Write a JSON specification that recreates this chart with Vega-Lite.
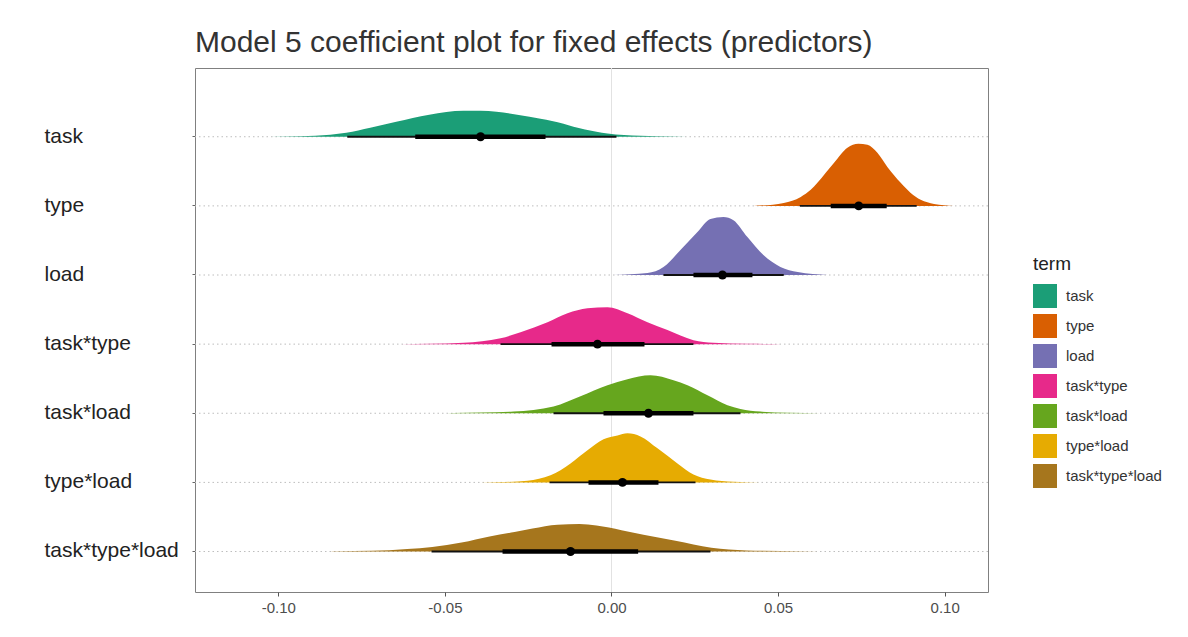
{
  "$schema": "https://vega.github.io/schema/vega-lite/v6.json",
  "autosize": {"type": "none"},
  "width": 793,
  "height": 524,
  "padding": {"left": 195, "top": 68, "right": 200, "bottom": 45},
  "background": "white",
  "title": {"text": "Model 5 coefficient plot for fixed effects (predictors)", "anchor": "start", "frame": "group", "fontSize": 30, "font": "Liberation Sans", "fontWeight": "normal", "color": "#333333", "offset": 10},
  "config": {
    "font": "Liberation Sans",
    "view": {"stroke": "#808080", "strokeWidth": 1}
  },
  "datasets": {
    "density": [
      {"term": "task", "x": -0.1024, "d": 0},
      {"term": "task", "x": -0.0934, "d": 0.36},
      {"term": "task", "x": -0.0844, "d": 1.42},
      {"term": "task", "x": -0.0796, "d": 2.84},
      {"term": "task", "x": -0.0724, "d": 6.4},
      {"term": "task", "x": -0.0646, "d": 10.67},
      {"term": "task", "x": -0.0547, "d": 15.65},
      {"term": "task", "x": -0.0444, "d": 18.49},
      {"term": "task", "x": -0.0393, "d": 18.49},
      {"term": "task", "x": -0.0345, "d": 17.78},
      {"term": "task", "x": -0.0246, "d": 14.22},
      {"term": "task", "x": -0.0213, "d": 12.8},
      {"term": "task", "x": -0.0144, "d": 9.25},
      {"term": "task", "x": -0.0114, "d": 7.11},
      {"term": "task", "x": -0.0045, "d": 3.56},
      {"term": "task", "x": -0.0012, "d": 2.35},
      {"term": "task", "x": 0.0087, "d": 0.71},
      {"term": "task", "x": 0.0186, "d": 0.21},
      {"term": "task", "x": 0.0267, "d": 0},
      {"term": "type", "x": 0.0427, "d": 0},
      {"term": "type", "x": 0.0517, "d": 2.1},
      {"term": "type", "x": 0.0568, "d": 6.4},
      {"term": "type", "x": 0.0598, "d": 11.4},
      {"term": "type", "x": 0.0618, "d": 16.4},
      {"term": "type", "x": 0.0668, "d": 30.6},
      {"term": "type", "x": 0.0708, "d": 41.3},
      {"term": "type", "x": 0.0741, "d": 44.1},
      {"term": "type", "x": 0.0768, "d": 43.4},
      {"term": "type", "x": 0.0798, "d": 37.7},
      {"term": "type", "x": 0.0828, "d": 27.7},
      {"term": "type", "x": 0.0868, "d": 16.4},
      {"term": "type", "x": 0.0898, "d": 9.2},
      {"term": "type", "x": 0.0928, "d": 4.3},
      {"term": "type", "x": 0.0968, "d": 1.4},
      {"term": "type", "x": 0.1028, "d": 0},
      {"term": "load", "x": 0.0006, "d": 0},
      {"term": "load", "x": 0.0108, "d": 1.4},
      {"term": "load", "x": 0.0156, "d": 5.7},
      {"term": "load", "x": 0.0207, "d": 17.8},
      {"term": "load", "x": 0.0258, "d": 30.6},
      {"term": "load", "x": 0.0297, "d": 39.8},
      {"term": "load", "x": 0.0336, "d": 41.3},
      {"term": "load", "x": 0.0366, "d": 39.0},
      {"term": "load", "x": 0.0408, "d": 27.0},
      {"term": "load", "x": 0.0456, "d": 14.2},
      {"term": "load", "x": 0.0507, "d": 5.7},
      {"term": "load", "x": 0.0559, "d": 2.1},
      {"term": "load", "x": 0.0649, "d": 0},
      {"term": "task*type", "x": -0.0634, "d": 0},
      {"term": "task*type", "x": -0.0544, "d": 0.2},
      {"term": "task*type", "x": -0.0444, "d": 0.9},
      {"term": "task*type", "x": -0.0333, "d": 4.1},
      {"term": "task*type", "x": -0.0273, "d": 8.5},
      {"term": "task*type", "x": -0.0192, "d": 15.6},
      {"term": "task*type", "x": -0.0132, "d": 22.0},
      {"term": "task*type", "x": -0.0072, "d": 25.6},
      {"term": "task*type", "x": -0.0012, "d": 26.3},
      {"term": "task*type", "x": 0.0048, "d": 22.0},
      {"term": "task*type", "x": 0.0108, "d": 15.6},
      {"term": "task*type", "x": 0.0168, "d": 10.0},
      {"term": "task*type", "x": 0.0246, "d": 2.8},
      {"term": "task*type", "x": 0.0306, "d": 0.9},
      {"term": "task*type", "x": 0.0408, "d": 0.2},
      {"term": "task*type", "x": 0.0508, "d": 0},
      {"term": "task*load", "x": -0.0514, "d": 0},
      {"term": "task*load", "x": -0.0474, "d": 0.2},
      {"term": "task*load", "x": -0.0294, "d": 1.2},
      {"term": "task*load", "x": -0.0174, "d": 4.8},
      {"term": "task*load", "x": -0.0093, "d": 12.1},
      {"term": "task*load", "x": -0.0012, "d": 19.9},
      {"term": "task*load", "x": 0.0048, "d": 24.2},
      {"term": "task*load", "x": 0.0117, "d": 27.0},
      {"term": "task*load", "x": 0.0186, "d": 23.5},
      {"term": "task*load", "x": 0.0228, "d": 19.9},
      {"term": "task*load", "x": 0.0288, "d": 12.8},
      {"term": "task*load", "x": 0.0348, "d": 5.7},
      {"term": "task*load", "x": 0.0387, "d": 3.1},
      {"term": "task*load", "x": 0.0447, "d": 1.2},
      {"term": "task*load", "x": 0.0529, "d": 0.4},
      {"term": "task*load", "x": 0.0628, "d": 0},
      {"term": "type*load", "x": -0.0393, "d": 0},
      {"term": "type*load", "x": -0.0333, "d": 0.2},
      {"term": "type*load", "x": -0.0252, "d": 1.2},
      {"term": "type*load", "x": -0.0183, "d": 5.0},
      {"term": "type*load", "x": -0.0123, "d": 13.5},
      {"term": "type*load", "x": -0.0072, "d": 22.8},
      {"term": "type*load", "x": -0.0024, "d": 30.6},
      {"term": "type*load", "x": 0.0018, "d": 33.4},
      {"term": "type*load", "x": 0.0048, "d": 34.9},
      {"term": "type*load", "x": 0.0087, "d": 32.7},
      {"term": "type*load", "x": 0.0138, "d": 24.2},
      {"term": "type*load", "x": 0.0198, "d": 13.5},
      {"term": "type*load", "x": 0.0246, "d": 5.7},
      {"term": "type*load", "x": 0.0297, "d": 2.1},
      {"term": "type*load", "x": 0.0366, "d": 0.5},
      {"term": "type*load", "x": 0.0447, "d": 0},
      {"term": "task*type*load", "x": -0.0844, "d": 0},
      {"term": "task*type*load", "x": -0.0826, "d": 0.2},
      {"term": "task*type*load", "x": -0.0721, "d": 0.5},
      {"term": "task*type*load", "x": -0.0613, "d": 1.8},
      {"term": "task*type*load", "x": -0.0538, "d": 3.3},
      {"term": "task*type*load", "x": -0.045, "d": 6.4},
      {"term": "task*type*load", "x": -0.0366, "d": 10.7},
      {"term": "task*type*load", "x": -0.0291, "d": 13.9},
      {"term": "task*type*load", "x": -0.0237, "d": 16.4},
      {"term": "task*type*load", "x": -0.0162, "d": 19.1},
      {"term": "task*type*load", "x": -0.0096, "d": 19.6},
      {"term": "task*type*load", "x": -0.0045, "d": 18.5},
      {"term": "task*type*load", "x": 0.003, "d": 15.2},
      {"term": "task*type*load", "x": 0.0096, "d": 11.9},
      {"term": "task*type*load", "x": 0.0192, "d": 7.6},
      {"term": "task*type*load", "x": 0.03, "d": 2.6},
      {"term": "task*type*load", "x": 0.0405, "d": 0.8},
      {"term": "task*type*load", "x": 0.0568, "d": 0.2},
      {"term": "task*type*load", "x": 0.0676, "d": 0}
    ],
    "intervals": [
      {"term": "task", "median": -0.0393, "lo66": -0.0589, "hi66": -0.0198, "lo95": -0.0793, "hi95": 0.0015},
      {"term": "type", "median": 0.0742, "lo66": 0.0658, "hi66": 0.0826, "lo95": 0.0565, "hi95": 0.0916},
      {"term": "load", "median": 0.0333, "lo66": 0.0246, "hi66": 0.0423, "lo95": 0.0156, "hi95": 0.0517},
      {"term": "task*type", "median": -0.0042, "lo66": -0.018, "hi66": 0.0099, "lo95": -0.0333, "hi95": 0.0246},
      {"term": "task*load", "median": 0.0111, "lo66": -0.0024, "hi66": 0.0246, "lo95": -0.0174, "hi95": 0.0387},
      {"term": "type*load", "median": 0.0033, "lo66": -0.0069, "hi66": 0.0141, "lo95": -0.0186, "hi95": 0.0252},
      {"term": "task*type*load", "median": -0.0123, "lo66": -0.0327, "hi66": 0.008, "lo95": -0.054, "hi95": 0.0297}
    ]
  },
  "layer": [
    {
      "data": {"values": [{"zero": 0}]},
      "mark": {"type": "rule", "color": "#e2e2e2", "strokeWidth": 1},
      "encoding": {
        "x": {"field": "zero", "type": "quantitative", "scale": {"domain": [-0.125, 0.113], "nice": false, "zero": false},
          "axis": {"title": null, "values": [-0.1, -0.05, 0, 0.05, 0.1], "labelExpr": "replace(format(datum.value, '.2f'), '\u2212', '-')", "labelFontSize": 15, "labelColor": "#4d4d4d", "tickColor": "#555555", "tickSize": 4, "labelPadding": 4, "domain": false, "grid": false}}
      }
    },
    {
      "data": {"name": "intervals"},
      "mark": {"type": "rule", "color": "#bdbdbd", "strokeWidth": 1, "strokeDash": [1.5, 3]},
      "encoding": {
        "y": {"field": "term", "type": "nominal", "sort": ["task", "type", "load", "task*type", "task*load", "type*load", "task*type*load"],
          "scale": {"type": "band", "paddingInner": 0, "paddingOuter": 0.29},
          "axis": {"title": null, "labelAlign": "left", "labelPadding": 148, "labelFontSize": 21, "labelColor": "#222222", "tickSize": 3, "tickColor": "#666666", "domain": false, "grid": false, "bandPosition": 0.704, "labelOffset": 14, "labelBaseline": "middle"}},
        "yOffset": {"datum": 0, "type": "quantitative", "scale": {"domain": [0, 50], "range": [48.7, -21.6]}}
      }
    },
    {
      "data": {"name": "density"},
      "mark": {"type": "line", "filled": true, "strokeWidth": 0, "opacity": 1, "interpolate": "monotone"},
      "encoding": {
        "x": {"field": "x", "type": "quantitative"},
        "y": {"field": "term", "type": "nominal", "sort": ["task", "type", "load", "task*type", "task*load", "type*load", "task*type*load"]},
        "yOffset": {"field": "d", "type": "quantitative"},
        "order": {"field": "x", "type": "quantitative"},
        "color": {"field": "term", "type": "nominal", "sort": ["task", "type", "load", "task*type", "task*load", "type*load", "task*type*load"],
          "scale": {"domain": ["task", "type", "load", "task*type", "task*load", "type*load", "task*type*load"], "range": ["#1B9E77", "#D95F02", "#7570B3", "#E7298A", "#66A61E", "#E6AB02", "#A6761D"]},
          "legend": {"title": "term", "orient": "none", "legendX": 838, "legendY": 187, "titleFontSize": 19, "titleFontWeight": "normal", "titleColor": "#222222", "titlePadding": 10, "labelFontSize": 15, "labelColor": "#333333", "symbolType": "square", "symbolSize": 576, "symbolStrokeWidth": 0, "rowPadding": 6, "labelOffset": 9}}
      }
    },
    {
      "data": {"name": "intervals"},
      "mark": {"type": "rule", "color": "#111111", "strokeWidth": 1.8},
      "encoding": {
        "x": {"field": "lo95", "type": "quantitative"},
        "x2": {"field": "hi95"},
        "y": {"field": "term", "type": "nominal", "sort": ["task", "type", "load", "task*type", "task*load", "type*load", "task*type*load"]},
        "yOffset": {"datum": 0, "type": "quantitative"}
      }
    },
    {
      "data": {"name": "intervals"},
      "mark": {"type": "rule", "color": "#000000", "strokeWidth": 4.5},
      "encoding": {
        "x": {"field": "lo66", "type": "quantitative"},
        "x2": {"field": "hi66"},
        "y": {"field": "term", "type": "nominal", "sort": ["task", "type", "load", "task*type", "task*load", "type*load", "task*type*load"]},
        "yOffset": {"datum": 0, "type": "quantitative"}
      }
    },
    {
      "data": {"name": "intervals"},
      "mark": {"type": "point", "filled": true, "color": "#000000", "size": 80, "opacity": 1},
      "encoding": {
        "x": {"field": "median", "type": "quantitative"},
        "y": {"field": "term", "type": "nominal", "sort": ["task", "type", "load", "task*type", "task*load", "type*load", "task*type*load"]},
        "yOffset": {"datum": 0, "type": "quantitative"}
      }
    }
  ]
}
